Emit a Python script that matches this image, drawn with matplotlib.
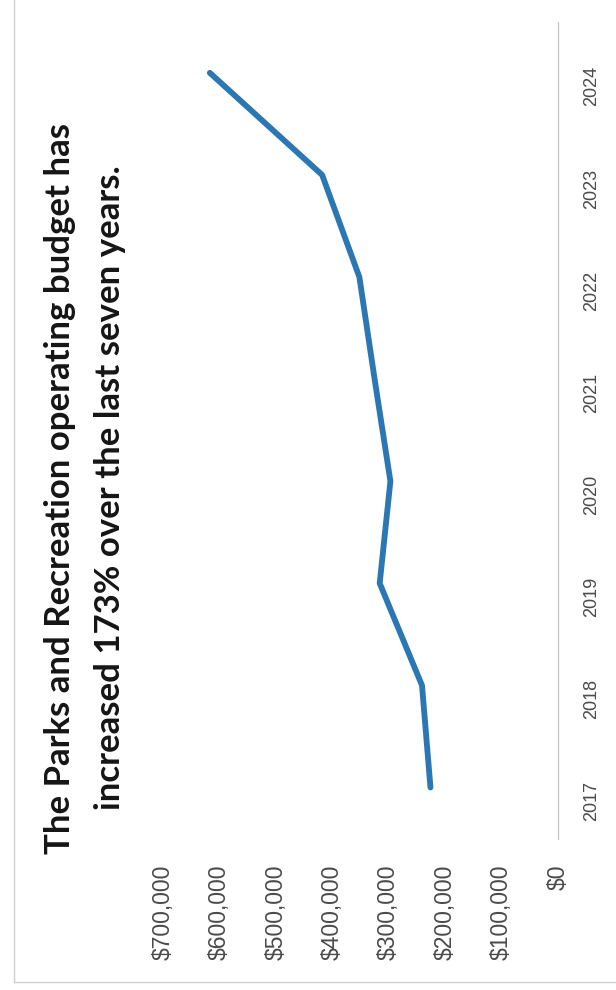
import matplotlib
matplotlib.use("Agg")
import matplotlib.pyplot as plt
from matplotlib.lines import Line2D

# Parks and Recreation operating budget by year
years = [2017, 2018, 2019, 2020, 2021, 2022, 2023, 2024]
budget = [226000, 241000, 316000, 297000, 325000, 352000, 418000, 617000]
tick_values = [0, 100000, 200000, 300000, 400000, 500000, 600000, 700000]
tick_labels = ["$0", "$100,000", "$200,000", "$300,000", "$400,000",
               "$500,000", "$600,000", "$700,000"]
title_lines = ["The Parks and Recreation operating budget has",
               "increased 173% over the last seven years."]

W, H = 616, 990
fig = plt.figure(figsize=(W / 100, H / 100), dpi=100)

# the page is scanned sideways: values run right-to-left, years bottom-to-top
ax = fig.add_axes([163 / W, 0.153, (558 - 163) / W, 0.825])
ax.plot(budget, years, color="#2b77b3", lw=4.2, solid_capstyle="round",
        solid_joinstyle="round")
ax.set_xlim(700000, 0)
ax.set_ylim(2016.5, 2024.5)

for s in ["top", "left", "bottom"]:
    ax.spines[s].set_visible(False)
ax.spines["right"].set_color("#c4c4c4")
ax.spines["right"].set_linewidth(0.9)

ax.yaxis.tick_right()
ax.set_yticks(years)
ax.set_yticklabels([str(y) for y in years], rotation=90, fontsize=13,
                   family="Liberation Sans", color="#4a4a4a")
ax.tick_params(axis="y", length=0, pad=18)

ax.set_xticks(tick_values)
ax.set_xticklabels(tick_labels, rotation=90, fontsize=16.5,
                   family="Liberation Sans", color="#4a4a4a")
ax.tick_params(axis="x", length=0, pad=19)

# title, two rotated lines
fig.text(70 / W, 1 - 489 / H, title_lines[0], rotation=90,
         rotation_mode="anchor", ha="center", va="baseline",
         fontsize=25, fontweight="bold", family="Lato", color="#151515")
fig.text(120 / W, 1 - 488 / H, title_lines[1], rotation=90,
         rotation_mode="anchor", ha="center", va="baseline",
         fontsize=25, fontweight="bold", family="Lato", color="#151515")

# faint frame of the scanned panel
fig.add_artist(Line2D([14 / W, 14 / W], [8 / H, 1], color="#d0d0d0", lw=1))
fig.add_artist(Line2D([14 / W, 1], [8 / H, 8 / H], color="#d0d0d0", lw=1))

fig.savefig("out.png", dpi=100)
